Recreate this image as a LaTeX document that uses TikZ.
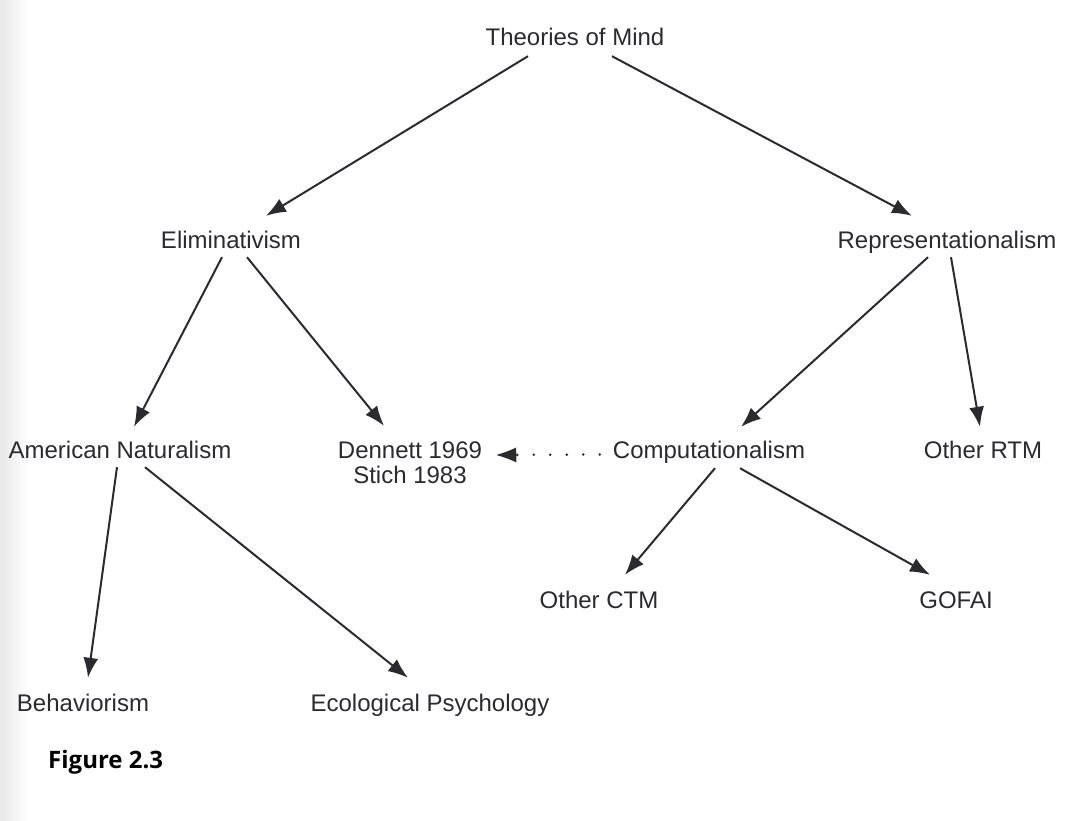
\documentclass[tikz,border=0pt]{standalone}
\usepackage{fontspec}
\setmainfont{Liberation Sans}
\newfontfamily\figfont{Open Sans}
\usetikzlibrary{arrows.meta,calc,positioning}
\definecolor{ink}{HTML}{2A2A2F}
\tikzset{
	label/.style={inner sep=0pt, text height=17pt, text depth=0pt, anchor=base, text=ink,
		font=\fontsize{24}{25}\selectfont},
	arr/.style={draw=ink, line width=2pt, -{Latex[length=20pt,width=15pt]}},
	dots/.style={draw=ink, line width=2.8pt, line cap=round, dash pattern=on 0pt off 16.5pt,
		-{Latex[length=20pt,width=15pt,line width=0pt]}}
}
\begin{document}
\begin{tikzpicture}[x=1pt,y=-1pt]
		\useasboundingbox (0,0) rectangle (1080,821);
		\shade[left color=black!9, right color=white] (0,0) rectangle (28,821);
		% nodes
		\node[label] (top) at (575,46) {Theories of Mind};
		\node[label] (elim) at (231,249) {Eliminativism};
		\node[label] (repr) at (947,249) {Representationalism};
		\node[label] (amnat) at (120,458) {American Naturalism};
		\node[inner sep=0pt, align=center, text=ink, font=\fontsize{24}{25}\selectfont] (dennett) at (410,463) {Dennett 1969\\Stich 1983};
		\node[label] (comp) at (709,458) {Computationalism};
		\node[label] (ortm) at (983,458) {Other RTM};
		\node[label] (octm) at (599,608) {Other CTM};
		\node[label] (gofai) at (956,608) {GOFAI};
		\node[label] (behav) at (83,711) {Behaviorism};
		\node[label] (eco) at (430,711) {Ecological Psychology};
		\node[anchor=base west, inner sep=0pt, font=\figfont\bfseries\fontsize{24}{25}\selectfont] (fig) at (48,768) {Figure 2.3};
		% arrows
		\draw[arr] ($(top.south)+(-47,10)$) -- ($(elim.north)+(35,-16)$);
		\draw[arr] ($(top.south)+(37,10)$) -- ($(repr.north)+(-35,-16)$);
		\draw[arr] ($(elim.south)+(-9,8)$) -- ($(amnat.north)+(14,-14)$);
		\draw[arr] ($(elim.south)+(16,8)$) -- ($(dennett.north)+(-26,-16)$);
		\draw[arr] ($(repr.south)+(-19,8)$) -- ($(comp.north)+(32,-14)$);
		\draw[arr] ($(repr.south)+(4,8)$) -- ($(ortm.north)+(-3,-14)$);
		\draw[arr] ($(amnat.south)+(-3,9)$) -- ($(behav.north)+(5,-16)$);
		\draw[arr] ($(amnat.south)+(25,9)$) -- ($(eco.north)+(-22,-16)$);
		\draw[arr] ($(comp.south)+(6,10)$) -- ($(octm.north)+(26,-16)$);
		\draw[arr] ($(comp.south)+(31,10)$) -- ($(gofai.north)+(-26,-16)$);
		\draw[dots] ($(comp.west)+(-13,5)$) -- ($(dennett.east)+(14,-8)$);
	\end{tikzpicture}
\end{document}
